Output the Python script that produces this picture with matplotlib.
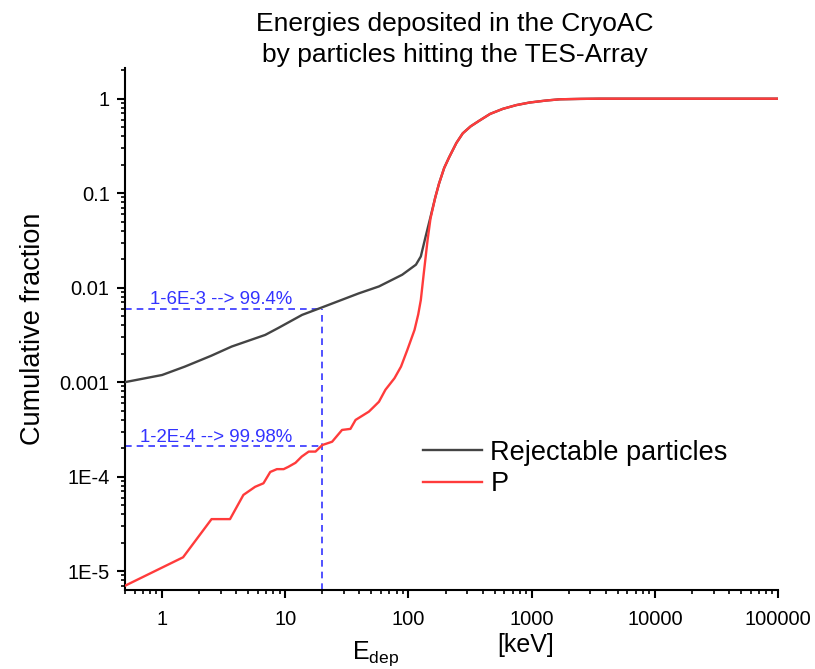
import matplotlib as mplt
mplt.use('Agg')
import matplotlib.pyplot as plt
from matplotlib.ticker import FixedLocator, LogLocator, NullFormatter
import numpy as np

mplt.rcParams['font.family'] = ['Liberation Sans', 'DejaVu Sans']
mplt.rcParams['axes.linewidth'] = 1.5
mplt.rcParams['xtick.major.width'] = 1.5
mplt.rcParams['ytick.major.width'] = 1.5
mplt.rcParams['xtick.minor.width'] = 1.2
mplt.rcParams['ytick.minor.width'] = 1.2

# cumulative fraction
rej_e = [0.5, 1.0, 1.53, 2.5, 3.67, 6.87, 8.8, 13.7, 20, 39.5, 57.6, 89, 115, 126,
         138, 151, 165, 177, 195, 214, 245, 276, 320, 376, 460, 583, 750, 960,
         1300, 1690, 2500, 3550, 100000]
rej_f = [1.0e-3, 1.19e-3, 1.46e-3, 1.9e-3, 2.38e-3, 3.16e-3, 3.75e-3, 5.15e-3, 6.2e-3,
         8.7e-3, 1.03e-2, 1.37e-2, 1.75e-2, 2.14e-2, 3.5e-2, 5.6e-2, 9.0e-2, 0.126,
         0.185, 0.24, 0.34, 0.43, 0.51, 0.585, 0.69, 0.78, 0.855, 0.91, 0.955, 0.985,
         0.995, 1.0, 1.0]

p_e = [0.5, 1.48, 2.52, 3.56, 4.57, 5.69, 6.65, 7.55, 8.55, 9.7, 10.6, 12.1, 13.6,
       15.5, 17.6, 20, 24, 28.9, 33.8, 37.2, 47.7, 52.5, 57.6, 65, 77, 87, 98, 112,
       120, 126, 133, 143, 151, 165, 177, 195, 214, 245, 276, 320, 376, 460, 583,
       750, 960, 1300, 1690, 2500, 3550, 100000]
p_f = [7e-6, 1.40e-5, 3.55e-5, 3.55e-5, 6.4e-5, 7.8e-5, 8.5e-5, 1.12e-4, 1.2e-4,
       1.2e-4, 1.27e-4, 1.4e-4, 1.63e-4, 1.84e-4, 1.84e-4, 2.16e-4, 2.34e-4, 3.12e-4,
       3.2e-4, 3.98e-4, 4.87e-4, 5.5e-4, 6.2e-4, 8.3e-4, 1.1e-3, 1.46e-3, 2.2e-3,
       3.57e-3, 5.2e-3, 7.4e-3, 1.4e-2, 3.2e-2, 5.4e-2, 9.0e-2, 0.126, 0.185, 0.24,
       0.34, 0.43, 0.51, 0.585, 0.69, 0.78, 0.855, 0.91, 0.955, 0.985, 0.995, 1.0, 1.0]

e_cut = 20
frac_rej = 6e-3
frac_p = 2.1e-4

yticks = [1e-5, 1e-4, 1e-3, 1e-2, 1e-1, 1]
yticklabels = ["1E-5", "1E-4", "0.001", "0.01", "0.1", "1"]
xticks = [1, 10, 100, 1000, 10000, 100000]
xticklabels = ["1", "10", "100", "1000", "10000", "100000"]

xmin, xmax = 0.5, 1e5
ymin, ymax = 6.3e-6, 2.1

fig = plt.figure(figsize=(8.15, 6.69), dpi=100)
ax = fig.add_axes([0.1534, 0.118, 0.8012, 0.780])

ax.plot(rej_e, rej_f, color="#444444", lw=1.7, label="Rejectable particles", zorder=3)
ax.plot(p_e, p_f, color="#ff3b3b", lw=1.7, label="P", zorder=4)

blue = "#3333ff"
ax.plot([e_cut, e_cut], [ymin, frac_rej], ls=(0, (4, 3)), color=blue, lw=1.2, zorder=2)
ax.plot([xmin, e_cut], [frac_rej, frac_rej], ls=(0, (4, 3)), color=blue, lw=1.2, zorder=2)
ax.plot([xmin, e_cut], [frac_p, frac_p], ls=(0, (4, 3)), color=blue, lw=1.2, zorder=2)

ax.text(0.80, frac_rej * 1.12, "1-6E-3 --> 99.4%", color=blue, fontsize=13.4)
ax.text(0.66, frac_p * 1.12, "1-2E-4 --> 99.98%", color=blue, fontsize=13.4)

ax.set_xscale("log")
ax.set_yscale("log")
ax.set_xlim(xmin, xmax)
ax.set_ylim(ymin, ymax)

ax.xaxis.set_major_locator(FixedLocator(xticks))
ax.set_xticklabels(xticklabels)
ax.xaxis.set_minor_locator(LogLocator(base=10, subs=np.arange(2, 10)))
ax.xaxis.set_minor_formatter(NullFormatter())
ax.yaxis.set_major_locator(FixedLocator(yticks))
ax.set_yticklabels(yticklabels)
ax.yaxis.set_minor_locator(LogLocator(base=10, subs=np.arange(2, 10)))
ax.yaxis.set_minor_formatter(NullFormatter())

ax.tick_params(which="major", direction="out", length=6, labelsize=14.5)
ax.tick_params(which="minor", direction="out", length=3)
ax.tick_params(axis="x", which="major", pad=8)
ax.tick_params(axis="y", which="major", pad=5)

for s in ["top", "right"]:
    ax.spines[s].set_visible(False)

ax.set_ylabel("Cumulative fraction", fontsize=19.5, labelpad=10)
ax.text(0.348, -0.131, r"E$_\mathregular{dep}$", transform=ax.transAxes,
        fontsize=18, va="baseline", ha="left")
ax.text(0.57, -0.118, "[keV]", transform=ax.transAxes,
        fontsize=18, va="baseline", ha="left")

fig.text(0.5577, 0.9537, "Energies deposited in the CryoAC", fontsize=19,
         ha="center", va="baseline")
fig.text(0.5577, 0.9073, "by particles hitting the TES-Array", fontsize=19,
         ha="center", va="baseline")

ax.legend(loc="upper left", bbox_to_anchor=(0.456, 0.288), frameon=False,
          fontsize=19.5, borderpad=0, borderaxespad=0, handlelength=2.2,
          handletextpad=0.3, labelspacing=0.2)

fig.savefig("out.png", dpi=100)
